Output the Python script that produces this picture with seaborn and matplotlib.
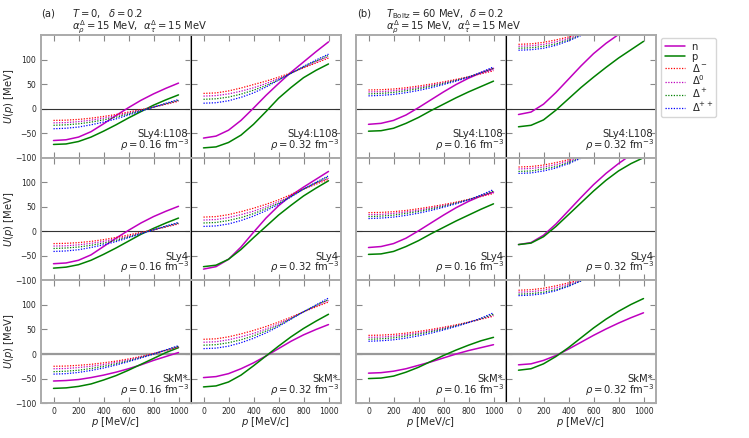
import numpy as np
import pandas as pd
import seaborn as sns
import matplotlib.pyplot as plt

mom = [0, 100, 200, 300, 400, 500, 600, 700, 800, 900, 1000]

# (a) T = 0, delta = 0.2
a_L108_016_n = [-65, -63.5, -58, -47, -31, -14, 2, 17, 30, 41.5, 52]
a_L108_016_p = [-73, -72, -67, -58, -46, -33, -19, -6, 7, 18, 28]
a_L108_016_dm = [-24, -23.5, -22, -19.5, -16, -12, -7, -2, 3, 9, 15]
a_L108_016_d0 = [-29, -28.5, -26.5, -23.5, -19.5, -14.5, -9, -3, 3, 9.5, 16]
a_L108_016_dp = [-34, -33, -31, -27.5, -23, -17.5, -11, -4, 3, 10, 17]
a_L108_016_dpp = [-41, -40, -37.5, -33, -27.5, -21, -13, -5, 3, 11, 18.5]

a_L108_032_n = [-60, -56, -44, -24, 1, 27, 51, 74, 95, 116, 136]
a_L108_032_p = [-80, -78, -69, -54, -32, -6, 21, 43, 63, 78, 91]
a_L108_032_dm = [31, 32, 36, 42, 49, 56, 64, 73, 83, 93, 103]
a_L108_032_d0 = [25.5, 26.5, 30, 35.5, 42.5, 51, 61, 72, 84, 95, 106]
a_L108_032_dp = [19, 20, 23.5, 29.5, 37.5, 47, 58.5, 72, 85, 97, 108.5]
a_L108_032_dpp = [11, 12, 16, 23, 32, 44, 58, 72, 86, 99, 111]

a_SLy4_016_n = [-66, -64.5, -59, -48, -31, -14, 2, 17, 30, 41, 51]
a_SLy4_016_p = [-75, -73, -68, -59, -47, -34, -20, -6, 6, 17, 27]
a_SLy4_016_dm = [-25, -24.5, -23, -20.5, -17, -12.5, -7.5, -2, 3, 9, 15]
a_SLy4_016_d0 = [-30, -29.5, -27.5, -24.5, -20.5, -15.5, -10, -3.5, 3, 9.5, 16]
a_SLy4_016_dp = [-35, -34, -32, -28.5, -24, -18.5, -11.5, -4.5, 3, 10, 17]
a_SLy4_016_dpp = [-41, -40, -37.5, -33, -27.5, -21, -13, -5, 3, 11, 18]

a_SLy4_032_n = [-77, -72, -57, -32, -2, 27, 52, 73, 90, 106, 122]
a_SLy4_032_p = [-72, -69, -57, -37, -13, 10, 33, 53, 72, 88, 103]
a_SLy4_032_dm = [29, 30, 34, 40, 47, 55, 64, 75, 86, 96, 106]
a_SLy4_032_d0 = [23, 24, 28, 34, 41, 50, 60, 72, 86, 98, 108]
a_SLy4_032_dp = [17, 18, 22, 28, 36, 46, 57, 71, 86, 99, 111]
a_SLy4_032_dpp = [10, 11, 15, 22, 31, 42, 55, 70, 86, 100, 113]

a_SkM_016_n = [-55, -54, -52, -48, -43, -37, -30, -22, -13, -5, 3]
a_SkM_016_p = [-70, -69, -66, -61, -53, -44, -33, -21, -9, 3, 13]
a_SkM_016_dm = [-25, -24.5, -23, -21, -18, -14.5, -10, -5, 1, 7.5, 14]
a_SkM_016_d0 = [-30, -29.5, -27.5, -25, -21.5, -17, -12, -6, 0.5, 7.5, 15]
a_SkM_016_dp = [-36, -35, -33, -29.5, -25, -20, -14, -7, 0, 8, 16]
a_SkM_016_dpp = [-41, -40, -37.5, -33.5, -28.5, -22.5, -15.5, -8, 0, 8.5, 17]

a_SkM_032_n = [-48, -46, -40, -30, -18, -4, 11, 26, 39, 50, 60]
a_SkM_032_p = [-67, -65, -57, -43, -24, -4, 16, 35, 52, 67, 81]
a_SkM_032_dm = [30, 31, 35, 41, 48, 56, 65, 75, 86, 96, 106]
a_SkM_032_d0 = [24, 25, 29, 35, 42, 51, 61, 73, 86, 98, 109]
a_SkM_032_dp = [18, 19, 23, 29, 37, 47, 58, 72, 86, 99, 111]
a_SkM_032_dpp = [11, 12, 16, 23, 32, 43, 56, 71, 86, 100, 114]

# (b) T_Boltz = 60 MeV, delta = 0.2
b_L108_016_n = [-32, -30, -24, -13, 2, 18, 34, 49, 62, 73, 82]
b_L108_016_p = [-46, -45, -40, -30, -18, -4, 9, 22, 34, 45, 56]
b_L108_016_dm = [38, 38.5, 40, 42.5, 46, 50, 54.5, 59.5, 65, 71, 77]
b_L108_016_d0 = [34, 34.5, 36.5, 39.5, 43, 47.5, 52.5, 58, 64.5, 72, 79]
b_L108_016_dp = [30, 31, 33, 36.5, 40.5, 45.5, 51, 57.5, 64.5, 73, 82]
b_L108_016_dpp = [26, 27, 29, 32.5, 37, 42.5, 49, 56, 64, 74, 85]

b_L108_032_n = [-12, -7, 9, 33, 60, 87, 112, 133, 151, 167, 181]
b_L108_032_p = [-37, -34, -23, -3, 20, 43, 64, 84, 103, 120, 137]
b_L108_032_dm = [131, 132, 135, 140, 146, 153, 161, 170, 179, 189, 199]
b_L108_032_d0 = [127, 128, 131, 136, 143, 151, 160, 170, 180, 191, 202]
b_L108_032_dp = [123, 124, 127, 132, 140, 150, 160, 171, 182, 194, 206]
b_L108_032_dpp = [119, 120, 123, 129, 138, 149, 161, 173, 185, 198, 211]

b_SLy4_016_n = [-33, -31, -25, -14, 1, 17, 33, 48, 61, 72, 80]
b_SLy4_016_p = [-47, -46, -41, -31, -19, -5, 8, 21, 33, 45, 56]
b_SLy4_016_dm = [38, 38.5, 40, 42.5, 46, 50, 54.5, 59.5, 65, 71, 77]
b_SLy4_016_d0 = [34, 34.5, 36.5, 39.5, 43, 47.5, 52.5, 58, 64.5, 72, 79]
b_SLy4_016_dp = [30, 31, 33, 36.5, 40.5, 45.5, 51, 57.5, 64.5, 73, 82]
b_SLy4_016_dpp = [26, 27, 29, 32.5, 37, 42.5, 49, 56, 64, 74, 85]

b_SLy4_032_n = [-27, -23, -8, 15, 42, 69, 95, 118, 138, 156, 172]
b_SLy4_032_p = [-27, -24, -11, 10, 34, 58, 82, 104, 123, 138, 150]
b_SLy4_032_dm = [131, 132, 135, 140, 146, 153, 161, 170, 179, 189, 199]
b_SLy4_032_d0 = [127, 128, 131, 136, 143, 151, 160, 170, 180, 191, 202]
b_SLy4_032_dp = [122, 123, 127, 132, 140, 150, 160, 171, 182, 194, 206]
b_SLy4_032_dpp = [118, 119, 123, 129, 138, 149, 161, 173, 185, 198, 211]

b_SkM_016_n = [-39, -38, -35, -30, -23, -16, -8, 0, 7, 13, 19]
b_SkM_016_p = [-50, -49, -45, -37, -27, -15, -3, 8, 18, 27, 34]
b_SkM_016_dm = [38, 38.5, 40, 42.5, 46, 50, 54.5, 59.5, 65, 71, 77]
b_SkM_016_d0 = [34, 34.5, 36.5, 39.5, 43, 47.5, 52.5, 58, 64.5, 71.5, 79]
b_SkM_016_dp = [30, 31, 33, 36.5, 40.5, 45.5, 51, 57.5, 64.5, 72, 81]
b_SkM_016_dpp = [26, 27, 29, 32.5, 37, 42.5, 49, 56, 64, 73, 84]

b_SkM_032_n = [-22, -20, -13, -3, 10, 24, 38, 51, 63, 74, 84]
b_SkM_032_p = [-33, -30, -20, -5, 13, 33, 53, 71, 87, 101, 113]
b_SkM_032_dm = [130, 131, 134, 139, 145, 152, 160, 169, 178, 188, 198]
b_SkM_032_d0 = [126, 127, 130, 135, 142, 150, 159, 169, 179, 190, 201]
b_SkM_032_dp = [122, 123, 126, 131, 139, 149, 159, 170, 181, 193, 205]
b_SkM_032_dpp = [119, 120, 123, 129, 138, 149, 161, 173, 185, 198, 211]

models = ["SLy4:L108", "SLy4", "SkM*"]
rho_labels = [r"$\rho = 0.16\ \mathrm{fm}^{-3}$", r"$\rho = 0.32\ \mathrm{fm}^{-3}$"]
legend_labels = ["n", "p", r"$\Delta^-$", r"$\Delta^0$", r"$\Delta^+$", r"$\Delta^{++}$"]

panels = {
    ("a", 0, 0): [a_L108_016_n, a_L108_016_p, a_L108_016_dm, a_L108_016_d0, a_L108_016_dp, a_L108_016_dpp],
    ("a", 0, 1): [a_L108_032_n, a_L108_032_p, a_L108_032_dm, a_L108_032_d0, a_L108_032_dp, a_L108_032_dpp],
    ("a", 1, 0): [a_SLy4_016_n, a_SLy4_016_p, a_SLy4_016_dm, a_SLy4_016_d0, a_SLy4_016_dp, a_SLy4_016_dpp],
    ("a", 1, 1): [a_SLy4_032_n, a_SLy4_032_p, a_SLy4_032_dm, a_SLy4_032_d0, a_SLy4_032_dp, a_SLy4_032_dpp],
    ("a", 2, 0): [a_SkM_016_n, a_SkM_016_p, a_SkM_016_dm, a_SkM_016_d0, a_SkM_016_dp, a_SkM_016_dpp],
    ("a", 2, 1): [a_SkM_032_n, a_SkM_032_p, a_SkM_032_dm, a_SkM_032_d0, a_SkM_032_dp, a_SkM_032_dpp],
    ("b", 0, 0): [b_L108_016_n, b_L108_016_p, b_L108_016_dm, b_L108_016_d0, b_L108_016_dp, b_L108_016_dpp],
    ("b", 0, 1): [b_L108_032_n, b_L108_032_p, b_L108_032_dm, b_L108_032_d0, b_L108_032_dp, b_L108_032_dpp],
    ("b", 1, 0): [b_SLy4_016_n, b_SLy4_016_p, b_SLy4_016_dm, b_SLy4_016_d0, b_SLy4_016_dp, b_SLy4_016_dpp],
    ("b", 1, 1): [b_SLy4_032_n, b_SLy4_032_p, b_SLy4_032_dm, b_SLy4_032_d0, b_SLy4_032_dp, b_SLy4_032_dpp],
    ("b", 2, 0): [b_SkM_016_n, b_SkM_016_p, b_SkM_016_dm, b_SkM_016_d0, b_SkM_016_dp, b_SkM_016_dpp],
    ("b", 2, 1): [b_SkM_032_n, b_SkM_032_p, b_SkM_032_dm, b_SkM_032_d0, b_SkM_032_dp, b_SkM_032_dpp],
}

colors = ["m", "g", "r", "m", "g", "b"]
dotted = (0, (1, 1.2))
styles = ["-", "-", dotted, dotted, dotted, dotted]
widths = [1.1, 1.1, 0.9, 0.9, 0.9, 0.9]

sns.set_style("ticks")
plt.rcParams["font.family"] = ["DejaVu Sans"]
plt.rcParams["mathtext.fontset"] = "dejavusans"

W, H = 749, 438
fig = plt.figure(figsize=(W / 100, H / 100), dpi=100)

group_left = {"a": 41, "b": 356}
pw, ph = 150, 122.7
top = 35
tick_fs = 5.6
txt_fs = 7.2

handles = None
for (grp, row, col), series in panels.items():
    x0 = group_left[grp] + col * pw
    y0 = top + (row + 1) * ph
    ax = fig.add_axes([x0 / W, 1 - y0 / H, pw / W, ph / H])
    for vals, c, ls, lw, lab in zip(series, colors, styles, widths, legend_labels):
        sns.lineplot(x=mom, y=vals, ax=ax, color=c, linestyle=ls, lw=lw, legend=False)
        ax.lines[-1].set_label(lab)
    if handles is None:
        handles = list(ax.lines)
    if row < 2:
        ax.axhline(0, color="#333333", lw=0.8, zorder=1)
    else:
        ax.axhline(0, color="#999999", lw=1.6, zorder=1)
    ax.set_xlim(-100, 1100)
    ax.set_ylim(-100, 150)
    ax.set_xticks([0, 200, 400, 600, 800, 1000])
    ax.set_yticks([-100, -50, 0, 50, 100])
    ax.tick_params(direction="in", top=True, right=True, length=4, width=0.8,
                   color="#888888", labelsize=tick_fs, pad=2.5)
    ax.tick_params(axis="y", pad=3.5)
    for s in ax.spines.values():
        s.set_color("#aaaaaa")
        s.set_linewidth(1.4)
    if col == 1:
        ax.spines["left"].set_color("black")
        ax.spines["left"].set_linewidth(0.8)
    if row < 2:
        ax.set_xticklabels([])
        ax.set_xlabel("")
    else:
        ax.set_xlabel(r"$p$ [MeV/$c$]", fontsize=txt_fs)
        ax.xaxis.set_label_coords(0.5, -0.1)
    if grp == "a" and col == 0:
        ax.set_ylabel(r"$U(p)$ [MeV]", fontsize=txt_fs)
        ax.yaxis.set_label_coords(-0.165, 0.5)
    else:
        ax.set_yticklabels([])
        ax.set_ylabel("")
    ax.text(0.982, 0.193, models[row], transform=ax.transAxes, ha="right",
            va="center", fontsize=txt_fs)
    ax.text(0.99, 0.105, rho_labels[col], transform=ax.transAxes, ha="right",
            va="center", fontsize=txt_fs)

fig.text(41 / W, 1 - 14 / H, "(a)", fontsize=txt_fs, va="center")
fig.text(72 / W, 1 - 14 / H, r"$T = 0,\ \ \delta = 0.2$", fontsize=txt_fs, va="center")
fig.text(72 / W, 1 - 27 / H, r"$\alpha^{\Delta}_{\rho} = 15$ MeV,  $\alpha^{\Delta}_{\tau} = 15$ MeV",
         fontsize=txt_fs, va="center")
fig.text(357 / W, 1 - 14 / H, "(b)", fontsize=txt_fs, va="center")
fig.text(386 / W, 1 - 14 / H, r"$T_{\mathrm{Boltz}} = 60$ MeV,  $\delta = 0.2$", fontsize=txt_fs, va="center")
fig.text(386 / W, 1 - 27 / H, r"$\alpha^{\Delta}_{\rho} = 15$ MeV,  $\alpha^{\Delta}_{\tau} = 15$ MeV",
         fontsize=txt_fs, va="center")

fig.legend(handles, legend_labels, loc="upper left", bbox_to_anchor=(661 / W, 1 - 38 / H),
           fontsize=txt_fs, frameon=True, edgecolor="#cccccc", fancybox=True,
           handlelength=2.0, labelspacing=0.0, borderpad=0.35, handletextpad=0.7,
           borderaxespad=0)

fig.savefig("out.png", dpi=100)
